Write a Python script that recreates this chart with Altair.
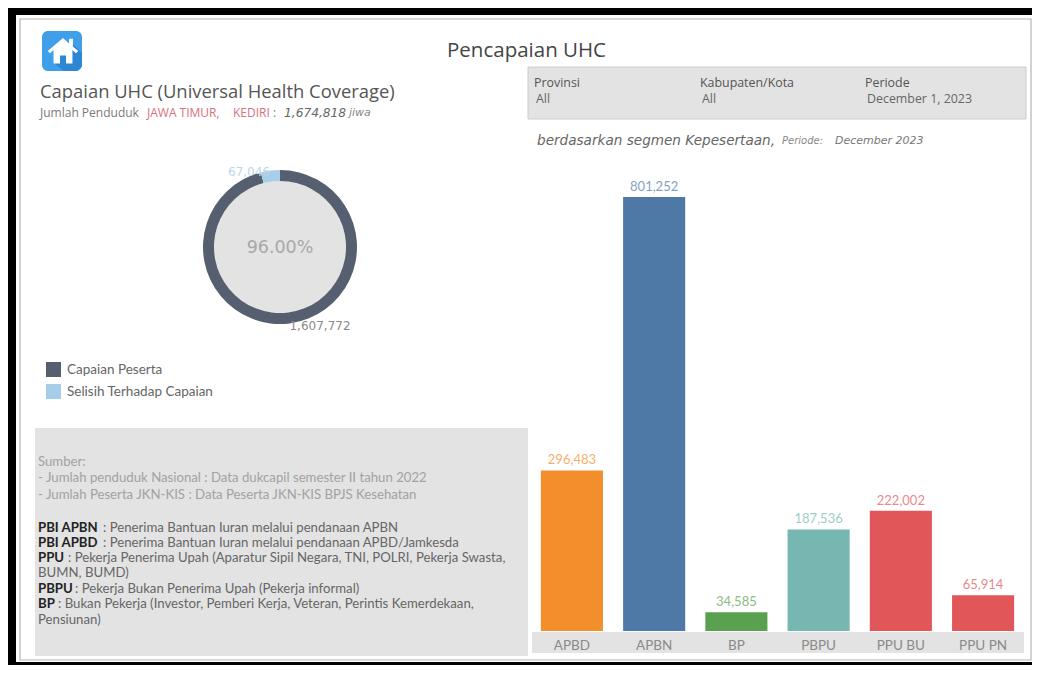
import altair as alt
import pandas as pd

# ---------- data ----------
segments = ["APBD", "APBN", "BP", "PBPU", "PPU BU", "PPU PN"]
peserta = [296483, 801252, 34585, 187536, 222002, 65914]
seg_colors = ["#f28e2b", "#4e79a7", "#59a14f", "#76b7b2", "#e15759", "#e15759"]

donut_names = ["Capaian Peserta", "Selisih Terhadap Capaian"]
donut_values = [1607772, 67046]
donut_colors = ["#565f6f", "#a6cdea"]

W, H = 1024, 657
SANS = "Open Sans"
BOOK = "Lato"
VERD = "DejaVu Sans"


def px(v):
    return v - 8


layers = []


def box(x0, y0, x1, y1, fill, stroke=None, sw=1):
    kw = {"fill": fill}
    if stroke:
        kw.update(stroke=stroke, strokeWidth=sw)
    layers.append(
        alt.Chart(pd.DataFrame({"k": [0]})).mark_rect(**kw).encode(
            x=alt.value(px(x0)), x2=alt.value(px(x1)),
            y=alt.value(px(y0)), y2=alt.value(px(y1)))
    )


def note(s, x, y, size=11, color="#666666", font=BOOK, weight="normal", style="normal", align="left"):
    layers.append(
        alt.Chart(pd.DataFrame({"k": [0]}))
        .mark_text(align=align, baseline="middle", fontSize=size, color=color, font=font,
                   fontWeight=weight, fontStyle=style)
        .encode(x=alt.value(px(x)), y=alt.value(px(y + 1)), text=alt.value(s))
    )


def glyph(path, x, y, size, color):
    layers.append(
        alt.Chart(pd.DataFrame({"k": [0]}))
        .mark_point(shape=path, size=size, filled=True, fill=color, opacity=1, strokeWidth=0)
        .encode(x=alt.value(px(x)), y=alt.value(px(y)))
    )


# frame
box(16, 15, 1048, 662, "#ffffff")
box(20, 19, 1031, 660, "#ffffff", "#b4b4b4", 1.2)

# panels
box(528, 67, 1026, 119, "#e3e3e3", "#cccccc", 1)
box(35, 428, 528, 656, "#e3e3e3")
box(532, 632, 1024, 653, "#e3e3e3")

# icon
layers.append(
    alt.Chart(pd.DataFrame({"k": [0]})).mark_rect(fill="#3f9fe9", cornerRadius=6).encode(
        x=alt.value(px(42)), x2=alt.value(px(82)), y=alt.value(px(31)), y2=alt.value(px(71)))
)
glyph("M0.55 -0.35L1 0.1L1 0.75L0.75 1L0.1 1L-0.4 0.6Z", 62, 51, 1600, "#2f86d2")
glyph("M-1 0L0 -0.85L0.4 -0.5L0.4 -0.8L0.65 -0.8L0.65 -0.3L1 0L0.85 0.14L0.62 -0.06L0.62 0.82L0.2 0.82L0.2 0.3L-0.2 0.3L-0.2 0.82L-0.62 0.82L-0.62 -0.06L-0.85 0.14Z",
      63, 51, 930, "#ffffff")

# headings
note("Pencapaian UHC", 447, 50, 20.5, "#454545", SANS, 500)
note("Capaian UHC (Universal Health Coverage)", 40, 91, 18.4, "#555555", SANS)
note("Jumlah Penduduk", 40, 112, 12, "#7a7a7a", SANS)
note("JAWA TIMUR,", 147, 112, 12, "#d9707c", SANS)
note("KEDIRI", 233, 112, 12, "#d9707c", SANS)
note(":", 273, 112, 12, "#7a7a7a", SANS)
note("1,674,818", 284, 112, 12.2, "#666666", VERD, style="italic")
note("jiwa", 349, 112, 11, "#888888", VERD, style="italic")

# filters
for lab, val, x in [("Provinsi", "All", 534), ("Kabupaten/Kota", "All", 700), ("Periode", "December 1, 2023", 865)]:
    note(lab, x, 82, 12.4, "#555555", SANS)
    note(val, x + 2, 98, 12.4, "#666666", SANS)

note("berdasarkan segmen Kepesertaan,", 537, 140, 13.6, "#666666", VERD, style="italic")
note("Periode:", 782, 140, 10, "#888888", VERD, style="italic")
note("December 2023", 835, 140, 11, "#777777", VERD, style="italic")

# donut
layers.append(
    alt.Chart(pd.DataFrame({"k": [0]})).mark_circle(size=17424, color="#e3e3e3", opacity=1).encode(
        x=alt.value(px(280)), y=alt.value(px(247)))
)
donut_df = pd.DataFrame({"name": donut_names, "v": donut_values, "o": [0, 1]})
layers.append(
    alt.Chart(donut_df).mark_arc(innerRadius=66, outerRadius=77).encode(
        theta=alt.Theta("v:Q", stack=True),
        order=alt.Order("o:Q"),
        color=alt.Color("name:N",
                        scale=alt.Scale(domain=donut_names, range=donut_colors),
                        legend=alt.Legend(orient="none", legendX=px(46), legendY=px(362), title=None,
                                          symbolType="square", symbolSize=225, symbolStrokeWidth=0,
                                          labelFont=BOOK, labelFontSize=13.5, labelColor="#666666",
                                          rowPadding=7, labelOffset=6)),
        x=alt.value(px(280)), y=alt.value(px(247)),
    )
)
note("96.00%", 280, 247, 17.5, "#a8a8a8", VERD, align="center")
note(f"{donut_values[1]:,}", 249, 171, 12, "#bcd6e8", VERD, align="center")
note(f"{donut_values[0]:,}", 320, 325, 12, "#8a8a8a", VERD, align="center")

# notes panel
for s, y in [("Sumber:", 461),
             ("- Jumlah penduduk Nasional : Data dukcapil semester II tahun 2022", 477),
             ("- Jumlah Peserta JKN-KIS : Data Peserta JKN-KIS BPJS Kesehatan", 494)]:
    note(s, 38, y, 13.2, "#a2a2a2")

for bold, rest, y, xr in [
    ("PBI APBN", ": Penerima Bantuan Iuran melalui pendanaan APBN", 527, 103),
    ("PBI APBD", ": Penerima Bantuan Iuran melalui pendanaan APBD/Jamkesda", 542, 103),
    ("PPU", ": Pekerja Penerima Upah (Aparatur Sipil Negara, TNI, POLRI, Pekerja Swasta,", 557, 68),
    ("PBPU", ": Pekerja Bukan Penerima Upah (Pekerja informal)", 588, 75),
    ("BP", ": Bukan Pekerja (Investor, Pemberi Kerja, Veteran, Perintis Kemerdekaan,", 603, 58),
]:
    note(bold, 38, y, 13.2, "#222222", BOOK, "bold")
    note(rest, xr, y, 13.2, "#666666")
note("BUMN, BUMD)", 38, 572, 13.2, "#666666")
note("Pensiunan)", 38, 619, 13.2, "#666666")

# bars
bar_df = pd.DataFrame({"seg": segments, "v": peserta})
x_enc = alt.X("seg:N", sort=segments, title=None,
              scale=alt.Scale(domain=segments, range=[px(531), px(1024)], paddingInner=0.245, paddingOuter=0.12),
              axis=alt.Axis(domain=False, ticks=False, labelAngle=0, labelFont=BOOK, labelFontSize=13.5,
                            labelColor="#8a8a8a", offset=-(H - px(631)), labelPadding=7, zindex=1,
                            grid=False))
y_enc = alt.Y("v:Q", title=None, axis=None,
              scale=alt.Scale(domain=[0, 801252], range=[px(631), px(197)], nice=False, zero=True))
col_enc = alt.Color("seg:N", scale=alt.Scale(domain=segments, range=seg_colors), legend=None)
bars = alt.Chart(bar_df).mark_bar().encode(x=x_enc, y=y_enc, color=col_enc)
labels = alt.Chart(bar_df).mark_text(baseline="bottom", dy=-3, fontSize=13, font=BOOK, opacity=0.7).encode(
    x=x_enc, y=y_enc, color=col_enc, text=alt.Text("v:Q", format=","))
layers += [bars, labels]

chart = (
    alt.layer(*layers)
    .resolve_scale(color="independent")
    .properties(width=W, height=H, padding=0, background="#000000",
                autosize=alt.AutoSizeParams(type="none"))
    .configure_view(stroke=None)
)
chart.save("out.html", embed_options={"renderer": "svg", "actions": False})
